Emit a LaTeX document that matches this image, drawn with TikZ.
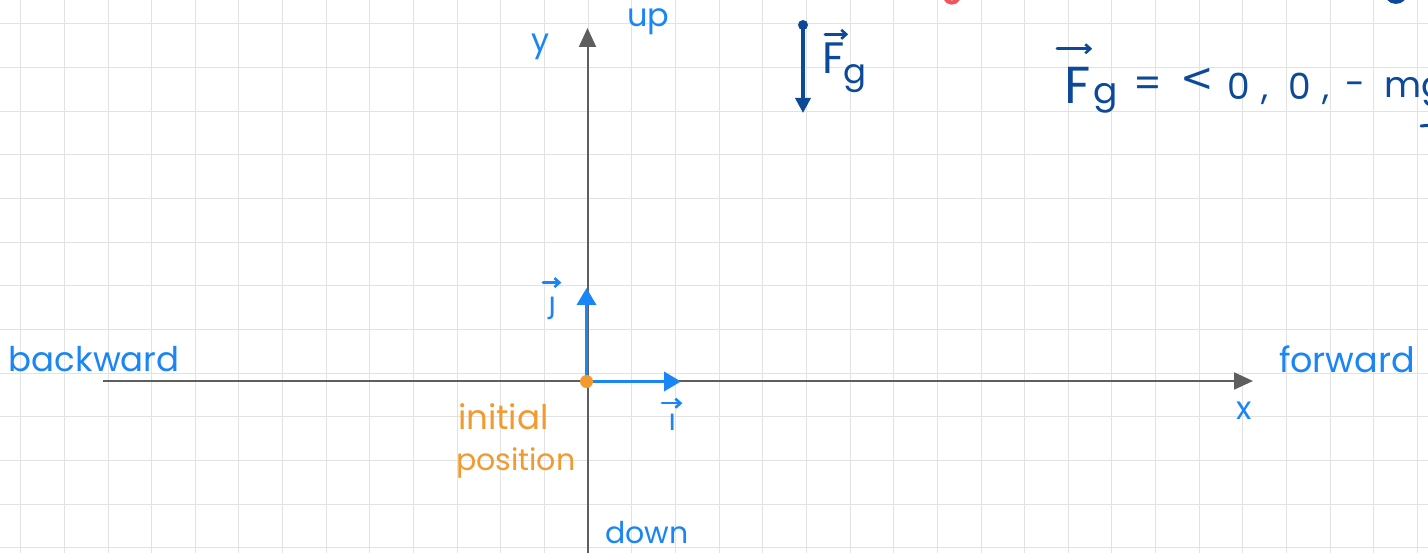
\documentclass[tikz,border=0pt]{standalone}
\usepackage{fontspec}
\setmainfont{Poppins}
\newfontfamily\dv{DejaVu Sans}
\usetikzlibrary{arrows.meta}
\definecolor{gridc}{HTML}{E2E2E2}
\definecolor{axisc}{HTML}{5E5E5E}
\definecolor{hblue}{HTML}{1A86F5}
\definecolor{dblue}{HTML}{0C4A97}
\definecolor{horange}{HTML}{F29A2E}
\definecolor{hred}{HTML}{F2545B}
\tikzset{
  gridline/.style={draw=gridc, line width=1pt},
  axisline/.style={draw=axisc, line width=2pt, -{Triangle[length=19pt,width=17pt]}},
  bvec/.style={draw=hblue, line width=3.5pt, -{Triangle[length=17pt,width=19pt]}},
  fvec/.style={draw=dblue, line width=3.5pt, -{Triangle[length=15pt,width=15pt]}},
  overarrow/.style={line width=2.6pt, line cap=round, -{Straight Barb[length=5pt,width=9pt]}},
  hand/.style={inner sep=0pt, outer sep=0pt, anchor=base west},
  blab/.style={hand, text=hblue},
  olab/.style={hand, text=horange},
  dlab/.style={hand, text=dblue},
}
\begin{document}
\begin{tikzpicture}[x=1pt,y=-1pt]
\useasboundingbox (0,0) rectangle (1428,553);
\clip (0,0) rectangle (1428,553);
\fill[white] (0,0) rectangle (1428,553);
% grid
\foreach \i in {0,...,32} \draw[gridline] ({20.7+\i*43.65},0) -- ({20.7+\i*43.65},553);
\foreach \j in {0,...,12} \draw[gridline] (0,{24+\j*43.65}) -- (1428,{24+\j*43.65});
% axes
\coordinate (xs) at (103,381);
\coordinate (xe) at (1253,381);
\coordinate (ys) at (587.5,556);
\coordinate (ye) at (587.5,28);
\draw[axisline] (xs) -- (xe);
\draw[axisline] (ys) -- (ye);
% unit vectors
\coordinate (o) at (586.5,381.5);
\coordinate (jt) at (586.5,288);
\coordinate (it) at (681,381.5);
\draw[bvec] (o) -- (jt);
\draw[bvec] (o) -- (it);
\fill[horange] (o) circle (6.5);
% force vector
\coordinate (fs) at (803,25);
\coordinate (fe) at (803,113);
\fill[dblue] (fs) circle (5);
\draw[fvec] (fs) -- (fe);
% axis labels
\node[blab, font=\fontsize{32}{34}\selectfont] (ylab) at (531,52) {y};
\node[blab, font=\fontsize{32}{34}\selectfont] (uplab) at (627,27) {up};
\node[blab, font=\fontsize{34}{36}\selectfont] (back) at (9,372) {backward};
\node[blab, font=\fontsize{35}{38}\selectfont] (fwd) at (1279,373) {forward};
\node[blab, font=\fontsize{32}{34}\selectfont] (xlab) at (1236,420) {x};
\node[blab, font=\fontsize{30}{32}\selectfont] (down) at (605,543) {down};
\node[olab, font=\fontsize{34}{36}\selectfont] (init) at (458,430) {initial};
\node[olab, font=\fontsize{30}{32}\selectfont] (pos) at (456,470) {position};
% i and j labels
\node[blab, font=\dv\fontsize{30}{32}\selectfont] (jlab) at (548,314) {\char"0237};
\draw[overarrow, hblue] ([xshift=-5pt,yshift=15pt]jlab.north west) -- ([xshift=5pt,yshift=15pt]jlab.north east);
\node[blab, font=\dv\fontsize{30}{32}\selectfont] (ilab) at (668,431) {\char"0131};
\draw[overarrow, hblue] ([xshift=-6pt,yshift=11pt]ilab.north west) -- ([xshift=6pt,yshift=11pt]ilab.north east);
% Fg label
\node[dlab, font=\fontsize{44}{46}\selectfont] (fgF) at (822,74) {F};
\node[dlab, font=\fontsize{34}{36}\selectfont] (fgg) at (843,84) {g};
\draw[overarrow, dblue] ([xshift=3pt,yshift=9pt]fgF.north west) -- ([xshift=4pt,yshift=9pt]fgF.north east);
% equation
\node[dlab, font=\fontsize{52}{54}\selectfont] (eqF) at (1064,104) {F};
\node[dlab, font=\fontsize{36}{38}\selectfont] (eqg) at (1093,104) {g};
\draw[overarrow, dblue] ([xshift=-7pt,yshift=19pt]eqF.north west) -- ([xshift=2pt,yshift=19pt]eqF.north east);
\node[dlab, font=\fontsize{40}{42}\selectfont, anchor=center] (eqeq) at (1148,87) {=};
\node[dlab, font=\dv\fontsize{40}{42}\selectfont, anchor=center] (eqlt) at (1197,80) {<};
\node[dlab, font=\fontsize{36}{38}\selectfont] (eqz1) at (1227,100) {0};
\node[dlab, font=\fontsize{36}{38}\selectfont] (eqc1) at (1261,100) {,};
\node[dlab, font=\fontsize{36}{38}\selectfont] (eqz2) at (1288,100) {0};
\node[dlab, font=\fontsize{36}{38}\selectfont] (eqc2) at (1322,100) {,};
\node[dlab, font=\fontsize{36}{38}\selectfont] (eqmin) at (1345,97) {-};
\node[dlab, font=\fontsize{36}{38}\selectfont] (eqmg) at (1384,98) {mg};
% cut-off stroke fragments at the edges
\draw[hred, line width=4pt, line cap=round] (945,-2) .. controls (948,4) and (955,4) .. (958,-1);
\draw[dblue, line width=4pt, line cap=round] (1388,-2) .. controls (1392,3) and (1399,3) .. (1403,-1);
\draw[dblue, line width=3pt, line cap=round] (1421,126) -- (1432,125);
\end{tikzpicture}
\end{document}
